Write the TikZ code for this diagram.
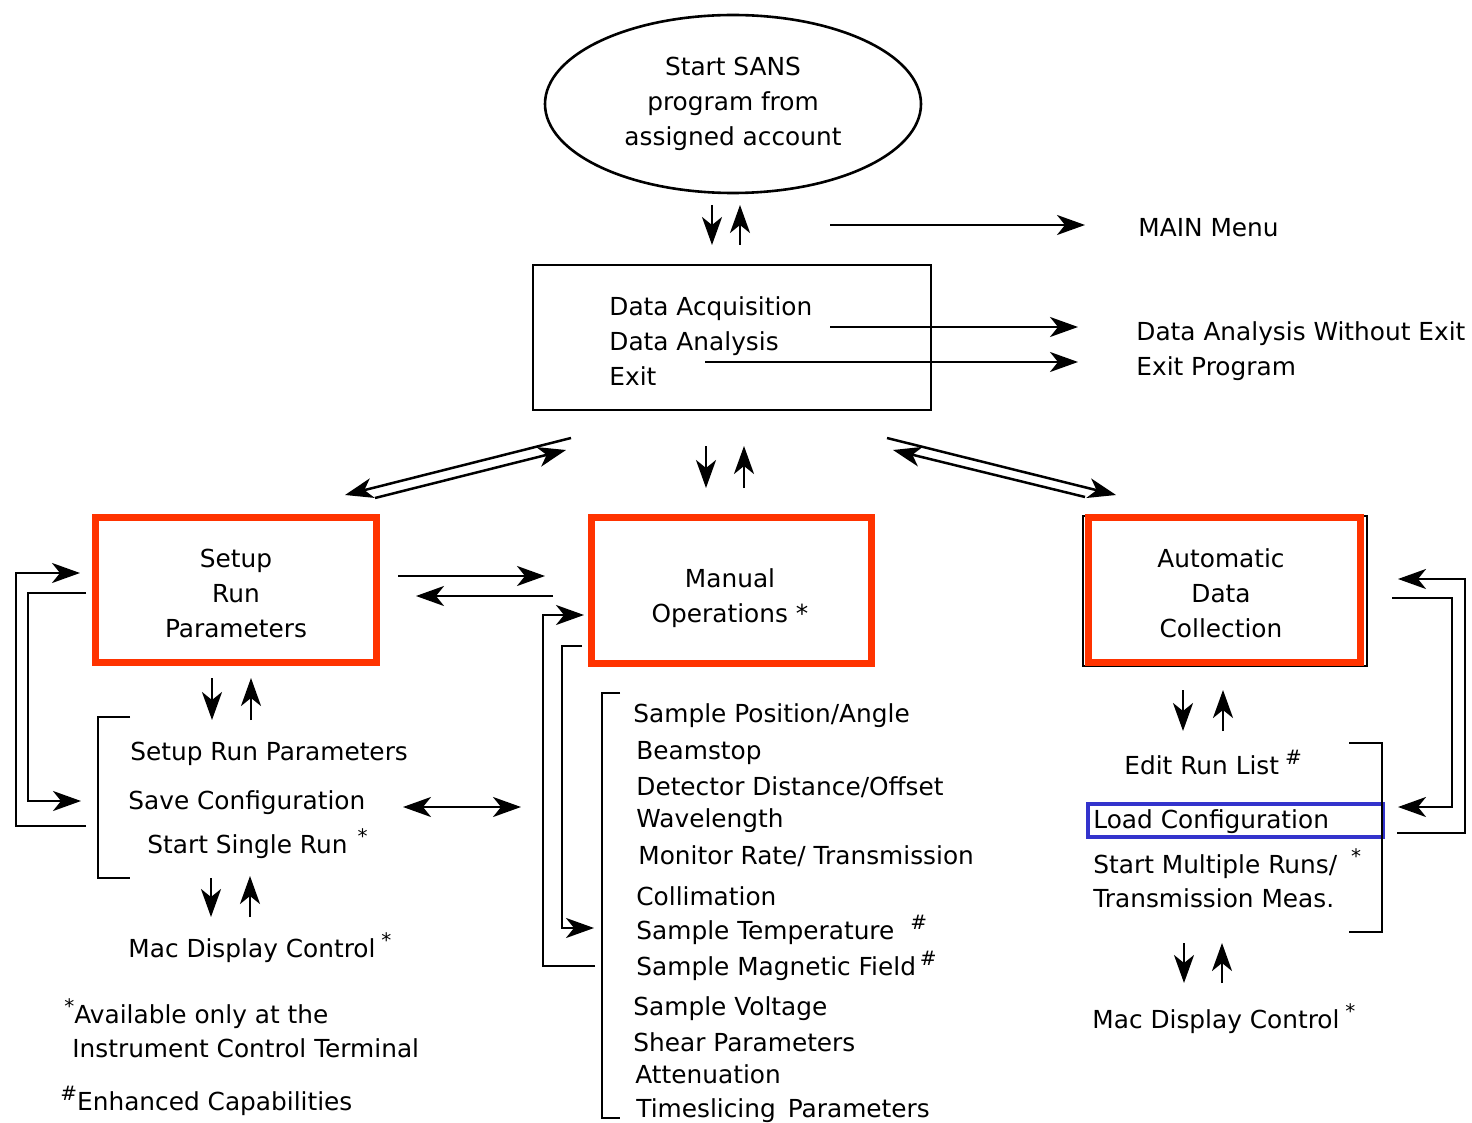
\documentclass[tikz,border=0pt]{standalone}
\usepackage{fontspec}
\setmainfont{DejaVu Sans}
\usetikzlibrary{arrows.meta}
\usetikzlibrary{shapes.geometric}

\definecolor{boxred}{RGB}{255,51,0}
\definecolor{boxblue}{RGB}{51,51,204}

% raised footnote marks (* and #)
\newcommand{\supmark}[1]{\raisebox{5pt}{\fontsize{10}{10}\selectfont #1}}

\tikzset{
  txt/.style={font=\fontsize{12.4}{17.5}\selectfont, inner sep=0pt},
  item/.style={txt, anchor=base west},
  title/.style={txt, align=center},
  redbox/.style={draw=boxred, line width=3.5pt},
  tip/.tip={Stealth[length=14pt,width=10pt,inset=4pt]},
  flow/.style={line width=1.25pt, -tip},
  twoway/.style={line width=1.25pt, tip-tip},
  bracket/.style={line width=1.1pt},
}

\begin{document}
\begin{tikzpicture}[x=0.5pt,y=-0.5pt]
\useasboundingbox (0,0) rectangle (1472,1123);

% start of the program
\node[draw, ellipse, line width=1.3pt, minimum width=188pt, minimum height=89pt, title] (start) at (733,104) {Start SANS\\program from\\assigned account};

\coordinate (startDn1) at (712,205);
\coordinate (startDn2) at (712,245);
\coordinate (startUp1) at (740,245);
\coordinate (startUp2) at (740,205);
\draw[flow] (startDn1) -- (startDn2);
\draw[flow] (startUp1) -- (startUp2);

% main menu
\node[draw, line width=1.3pt, minimum width=199pt, minimum height=72.5pt] (mainbox) at (732,337.5) {};
\node[txt, align=left, anchor=west] (choices) at (609,341) {Data Acquisition\\Data Analysis\\Exit};

\node[item] (mainmenu) at (1138,237) {MAIN Menu};
\node[item] (noexit) at (1136,340) {Data Analysis Without Exit};
\node[item] (exitprog) at (1136,375) {Exit Program};

\coordinate (menuA) at (830,225);
\coordinate (menuB) at (1085,225);
\coordinate (analysisA) at (830,327);
\coordinate (analysisB) at (1078,327);
\coordinate (exitA) at (705,362);
\coordinate (exitB) at (1078,362);
\draw[flow] (menuA) -- (menuB);
\draw[flow] (analysisA) -- (analysisB);
\draw[flow] (exitA) -- (exitB);

% branches to the three modes
\coordinate (leftA) at (571,438);
\coordinate (leftB) at (345,495);
\coordinate (leftC) at (375,498);
\coordinate (leftD) at (566,450);
\draw[flow] (leftA) -- (leftB);
\draw[flow] (leftC) -- (leftD);

\coordinate (midDn1) at (706,446);
\coordinate (midDn2) at (706,488);
\coordinate (midUp1) at (744,488);
\coordinate (midUp2) at (744,446);
\draw[flow] (midDn1) -- (midDn2);
\draw[flow] (midUp1) -- (midUp2);

\coordinate (rightA) at (887,438);
\coordinate (rightB) at (1116,495);
\coordinate (rightC) at (1085,497);
\coordinate (rightD) at (893,450);
\draw[flow] (rightA) -- (rightB);
\draw[flow] (rightC) -- (rightD);

% the three modes
\node[redbox, minimum width=140.5pt, minimum height=72.5pt] (setup) at (236,590) {};
\node[title] (setupT) at (236,593) {Setup\\Run\\Parameters};

\node[redbox, minimum width=140pt, minimum height=73pt] (manual) at (731.5,590.5) {};
\node[title] (manualT) at (730,598) {Manual\\Operations *};

\node[draw, line width=1pt, minimum width=142pt, minimum height=75pt] (autoframe) at (1225,591) {};
\node[redbox, fill=white, minimum width=136pt, minimum height=72.5pt] (auto) at (1224.5,590) {};
\node[title] (autoT) at (1221,593.5) {Automatic\\Data\\Collection};

% setup <-> manual
\coordinate (smA) at (398,576);
\coordinate (smB) at (545,576);
\coordinate (msA) at (553,596);
\coordinate (msB) at (416,596);
\draw[flow] (smA) -- (smB);
\draw[flow] (msA) -- (msB);

% setup run parameters
\coordinate (setupOutA) at (86,826);
\coordinate (setupOutB) at (16,573);
\coordinate (setupOutC) at (80,573);
\draw[flow] (setupOutA) -| (setupOutB) -- (setupOutC);
\coordinate (setupInA) at (86,593);
\coordinate (setupInB) at (28,801);
\coordinate (setupInC) at (81,801);
\draw[flow] (setupInA) -| (setupInB) -- (setupInC);

\coordinate (setupDn1) at (212,678);
\coordinate (setupDn2) at (212,720);
\coordinate (setupUp1) at (251,720);
\coordinate (setupUp2) at (251,678);
\draw[flow] (setupDn1) -- (setupDn2);
\draw[flow] (setupUp1) -- (setupUp2);

\draw[bracket] (130,717) -- (98,717) -- (98,878) -- (130,878);
\node[item] (runpar) at (130,760) {Setup Run Parameters};
\node[item] (saveconf) at (128,809) {Save Configuration};
\node[item] (single) at (147,853) {Start Single Run\hspace{5pt}\supmark{*}};

\coordinate (saveA) at (403,807);
\coordinate (saveB) at (521,807);
\draw[twoway] (saveA) -- (saveB);

\coordinate (macLDn1) at (211,878);
\coordinate (macLDn2) at (211,917);
\coordinate (macLUp1) at (250,917);
\coordinate (macLUp2) at (250,876);
\draw[flow] (macLDn1) -- (macLDn2);
\draw[flow] (macLUp1) -- (macLUp2);
\node[item] (macleft) at (128,957) {Mac Display Control\hspace{3pt}\supmark{*}};

% footnotes
\node[item] (avail) at (64,1023) {\supmark{*}Available only at the};
\node[item] (terminal) at (72,1057) {Instrument Control Terminal};
\node[item] (enhanced) at (60,1110) {\supmark{\#}Enhanced Capabilities};

% manual operations
\coordinate (manOutA) at (595,966);
\coordinate (manOutB) at (543,615);
\coordinate (manOutC) at (584,615);
\draw[flow] (manOutA) -| (manOutB) -- (manOutC);
\coordinate (manInA) at (582,646);
\coordinate (manInB) at (562,928);
\coordinate (manInC) at (594,928);
\draw[flow] (manInA) -| (manInB) -- (manInC);

\draw[bracket] (620,693) -- (602,693) -- (602,1118) -- (620,1118);
\node[item] (position) at (633,722) {Sample Position/Angle};
\node[item] (beamstop) at (636,759) {Beamstop};
\node[item] (detector) at (636,795) {Detector Distance/Offset};
\node[item] (wavelength) at (636,827) {Wavelength};
\node[item] (monitor) at (638,864) {Monitor Rate/ Transmission};
\node[item] (collimation) at (636,905) {Collimation};
\node[item] (temperature) at (636,939) {Sample Temperature\hspace{8pt}\supmark{\#}};
\node[item] (magnetic) at (636,975) {Sample Magnetic Field\hspace{2pt}\supmark{\#}};
\node[item] (voltage) at (633,1015) {Sample Voltage};
\node[item] (shear) at (633,1051) {Shear Parameters};
\node[item] (attenuation) at (635,1083) {Attenuation};
\node[item] (timeslicing) at (636,1117) {Timeslicing\hspace{6pt}Parameters};

% automatic data collection
\coordinate (autoDn1) at (1183,690);
\coordinate (autoDn2) at (1183,731);
\coordinate (autoUp1) at (1223,731);
\coordinate (autoUp2) at (1223,690);
\draw[flow] (autoDn1) -- (autoDn2);
\draw[flow] (autoUp1) -- (autoUp2);

\node[item] (runlist) at (1124,774) {Edit Run List\hspace{3pt}\supmark{\#}};
\node[draw=boxblue, line width=2pt, minimum width=147.5pt, minimum height=16.5pt] (loadbox) at (1235.5,820.5) {};
\node[item] (loadconf) at (1093,828) {Load Configuration};
\node[item] (multiple) at (1093,873) {Start Multiple Runs/\hspace{7pt}\supmark{*}};
\node[item] (transmission) at (1093,907) {Transmission Meas.};
\draw[bracket] (1349,743) -- (1382,743) -- (1382,932) -- (1349,932);

\coordinate (autoOutA) at (1397,833);
\coordinate (autoOutB) at (1465,579);
\coordinate (autoOutC) at (1398,579);
\draw[flow] (autoOutA) -| (autoOutB) -- (autoOutC);
\coordinate (autoInA) at (1392,598);
\coordinate (autoInB) at (1452,807);
\coordinate (autoInC) at (1398,807);
\draw[flow] (autoInA) -| (autoInB) -- (autoInC);

\coordinate (macRDn1) at (1184,943);
\coordinate (macRDn2) at (1184,983);
\coordinate (macRUp1) at (1222,983);
\coordinate (macRUp2) at (1222,943);
\draw[flow] (macRDn1) -- (macRDn2);
\draw[flow] (macRUp1) -- (macRUp2);
\node[item] (macright) at (1092,1028) {Mac Display Control\hspace{3pt}\supmark{*}};
\end{tikzpicture}
\end{document}
